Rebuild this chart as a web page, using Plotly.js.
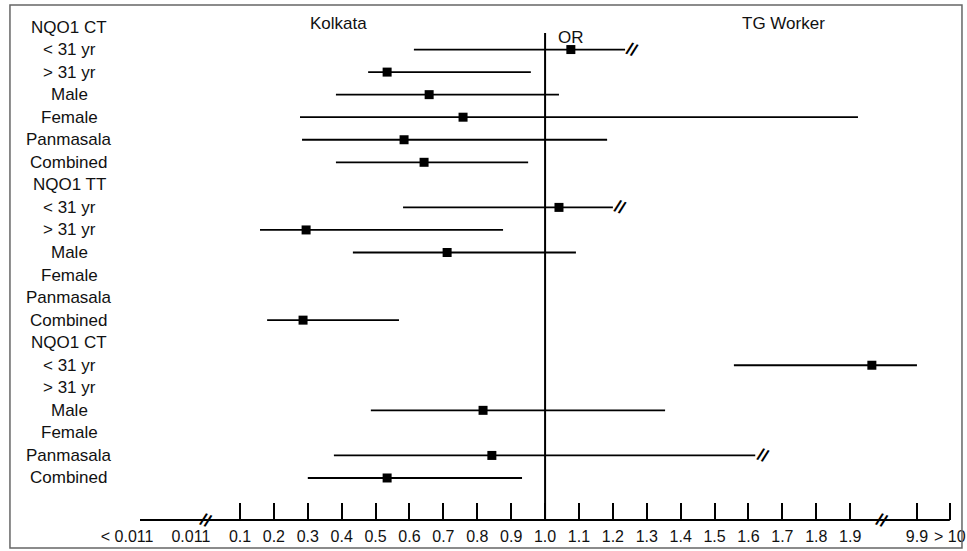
<!DOCTYPE html>
<html>
<head>
<meta charset="utf-8">
<script src="https://cdn.plot.ly/plotly-3.0.1.min.js"></script>
<style>html,body{margin:0;padding:0;background:#fff;}#chart{width:967px;height:551px;}</style>
</head>
<body>
<div id="chart"></div>
<script>
// Row labels (top to bottom)
var rowLabels = ["NQO1 CT","< 31 yr","> 31 yr","Male","Female","Panmasala","Combined",
                 "NQO1 TT","< 31 yr","> 31 yr","Male","Female","Panmasala","Combined",
                 "NQO1 CT","< 31 yr","> 31 yr","Male","Female","Panmasala","Combined"];
// Odds ratio (display scale) and CI bounds
var oddsRatio = [null,1.076,0.534,0.658,0.758,0.584,0.643,
                 null,1.041,0.295,0.711,null,null,0.286,
                 null,1.964,null,0.817,null,0.843,0.534];
var ciLow     = [null,0.613,0.478,0.383,0.277,0.283,0.383,
                 null,0.581,0.159,0.433,null,null,0.180,
                 null,1.557,null,0.486,null,0.377,0.300];
var ciHigh    = [null,1.236,0.958,1.041,1.923,1.183,0.950,
                 null,1.200,0.876,1.091,null,null,0.569,
                 null,2.097,null,1.354,null,1.620,0.932];
// Truncated CIs: break marks (row index, position)
var breakRows = [1, 8, 19];
var breakPos  = [1.255, 1.222, 1.642];
// Axis tick values and labels
var tickPos  = [0.1,0.2,0.3,0.4,0.5,0.6,0.7,0.8,0.9,1.0,1.1,1.2,1.3,1.4,1.5,1.6,1.7,1.8,1.9,2.097,2.194];
var tickText = ["0.1","0.2","0.3","0.4","0.5","0.6","0.7","0.8","0.9","1.0","1.1","1.2","1.3","1.4","1.5","1.6","1.7","1.8","1.9","9.9","> 10"];
var extraTickPos  = [-0.233, -0.045];
var extraTickText = ["< 0.011", "0.011"];
var axisBreakPos = [-0.0, 1.994];

var FONT = "Arial, 'Liberation Sans', sans-serif";
var rows = rowLabels.map(function(_, i){ return i; });

var errPlus = oddsRatio.map(function(v,i){ return v===null ? null : ciHigh[i]-v; });
var errMinus = oddsRatio.map(function(v,i){ return v===null ? null : v-ciLow[i]; });

var traces = [
  {
    type:'scatter', mode:'markers', x: oddsRatio, y: rows,
    marker:{symbol:'square', size:9, color:'#000'},
    error_x:{type:'data', symmetric:false, array:errPlus, arrayminus:errMinus,
             width:0, thickness:1.8, color:'#000'},
    hoverinfo:'x', showlegend:false
  },
  {
    type:'scatter', mode:'markers', x: extraTickPos, y:[0,0], xaxis:'x2', yaxis:'y',
    marker:{opacity:0}, showlegend:false, hoverinfo:'skip'
  }
];

function breakMark(xv, yv, yref){
  return {text:'<b>//</b>', xref:'x', yref:yref, x:xv, y:yv, xanchor:'center', yanchor:'middle',
          textangle:22, showarrow:false, font:{family:FONT, size:17, color:'#000'}};
}

var annotations = rowLabels.map(function(t, i){
  return {text:t, xref:'paper', yref:'y', x:-0.0360, y:i, xanchor:'center', yanchor:'middle',
          showarrow:false, font:{family:FONT, size:17, color:'#111'}};
});
annotations.push({text:'Kolkata', xref:'x', yref:'paper', x:0.39, y:1.0, xanchor:'center', yanchor:'middle',
                  yshift:-13, showarrow:false, font:{family:FONT, size:17, color:'#111'}});
annotations.push({text:'TG Worker', xref:'x', yref:'paper', x:1.704, y:1.0, xanchor:'center', yanchor:'middle',
                  yshift:-13, showarrow:false, font:{family:FONT, size:17, color:'#111'}});
annotations.push({text:'OR', xref:'x', yref:'paper', x:1.075, y:1.0, xanchor:'center', yanchor:'middle',
                  yshift:-27, showarrow:false, font:{family:FONT, size:17, color:'#111'}});
breakPos.forEach(function(p, i){ annotations.push(breakMark(p, breakRows[i], 'y')); });
axisBreakPos.forEach(function(p){ annotations.push(breakMark(p, 0, 'paper')); });

var layout = {
  width:967, height:551,
  margin:{l:100, r:7, t:10, b:31, pad:0},
  paper_bgcolor:'#fff', plot_bgcolor:'#fff',
  font:{family:FONT, color:'#111'},
  xaxis:{range:[-0.313, 2.224], tickmode:'array', tickvals:tickPos, ticktext:tickText,
         ticks:'inside', ticklen:17, tickwidth:2, tickcolor:'#000', ticklabelstandoff:5,
         showgrid:false, zeroline:false, showline:false,
         tickfont:{family:FONT, size:16, color:'#111'}, fixedrange:true},
  xaxis2:{range:[-0.313, 2.224], overlaying:'x', anchor:'y', side:'bottom',
          tickmode:'array', tickvals:extraTickPos, ticktext:extraTickText, ticks:'',
          ticklabelstandoff:5,
          showgrid:false, zeroline:false, showline:false,
          tickfont:{family:FONT, size:16, color:'#111'}},
  yaxis:{range:[21.863, -0.754], showticklabels:false, ticks:'', showgrid:false,
         zeroline:false, showline:false, fixedrange:true},
  shapes:[
    {type:'line', xref:'x', yref:'paper', x0:-0.195, x1:2.194, y0:0, y1:0, line:{color:'#000', width:2}},
    {type:'line', xref:'x', yref:'paper', x0:1.0, x1:1.0, y0:0, y1:0.955, line:{color:'#000', width:2}},
    {type:'rect', xref:'paper', yref:'paper', x0:-0.1047, x1:1.0023, y0:-0.0549, y1:1.0098,
     line:{color:'#666', width:1.5}, fillcolor:'rgba(0,0,0,0)'}
  ],
  annotations:annotations,
  showlegend:false
};

Plotly.newPlot('chart', traces, layout, {displayModeBar:false, staticPlot:true});
</script>
</body>
</html>
